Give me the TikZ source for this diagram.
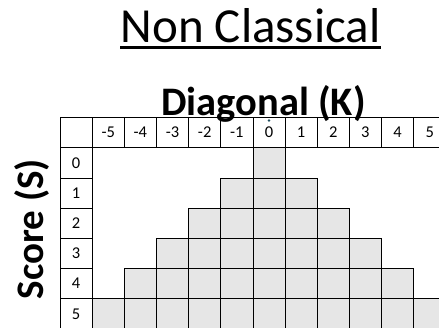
\documentclass[tikz,border=0pt]{standalone}
\usepackage{fontspec}
\setmainfont{Carlito}
\usepackage{tikz}
\usetikzlibrary{positioning}
\definecolor{CellGray}{RGB}{230,230,230}
\definecolor{DotTeal}{RGB}{31,78,95}

\begin{document}
\begin{tikzpicture}[
  x=1pt, y=-1pt,
  cellbox/.style={
    draw,
    minimum width=32.15pt,
    minimum height=30.2pt,
    inner sep=0pt,
    outer sep=0pt,
    line width=0.8pt,
    font=\fontsize{16.5}{18}\selectfont
  },
  shadedbox/.style={cellbox, fill=CellGray},
  titletext/.style={anchor=base, inner sep=0pt, font=\fontsize{49}{55}\selectfont},
  axistext/.style={anchor=base, inner sep=0pt, font=\fontsize{40.5}{46}\selectfont\bfseries}
]
\useasboundingbox (0,0) rectangle (439,327);
\clip (0,0) rectangle (439,327);
\def\CW{32.15}
\def\RH{30.2}
\def\XO{60}
\def\YO{117.5}

% titles
\node[titletext] (title) at (250.5,42.7) {Non Classical};
\draw[line width=3pt] ([yshift=-5pt]title.base west) -- ([yshift=-5pt]title.base east);
\node[axistext] (diag) at (263.5,115) {Diagonal (K)};
\node[axistext, rotate=90, font=\fontsize{39}{44}\selectfont\bfseries] (score) at (43.5,229) {Score (S)};

% header row
\node[cellbox] (corner) at ({\XO+0.5*\CW},{\YO+0.5*\RH}) {};
\foreach \k in {-5,...,5}
  \node[cellbox] (head\k) at ({\XO+(\k+6.5)*\CW},{\YO+0.5*\RH}) {\k};

% score rows and shaded triangle
\foreach \s in {0,...,5} {
  \node[cellbox] (row\s) at ({\XO+0.5*\CW},{\YO+(\s+1.5)*\RH}) {\s};
  \pgfmathtruncatemacro{\klo}{-\s}
  \foreach \k in {\klo,...,\s}
    \node[shadedbox] (cell\k-\s) at ({\XO+(\k+6.5)*\CW},{\YO+(\s+1.5)*\RH}) {};
}

\fill[DotTeal] (269,120.5) circle (1.4pt);
\end{tikzpicture}
\end{document}
